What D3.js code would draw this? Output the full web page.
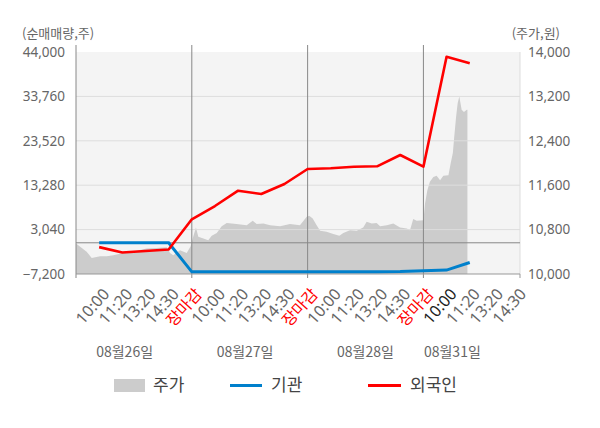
<!DOCTYPE html>
<html>
<head>
<meta charset="utf-8">
<script src="https://cdn.jsdelivr.net/npm/d3@7"></script>
<style>
  body { margin: 0; background: #fff; }
  svg { display: block; font-family: "Noto Sans CJK KR", "Noto Sans", sans-serif; }
</style>
</head>
<body>
<svg id="chart" width="600" height="428"></svg>
<script>
// x positions are in "slots": each day has 5 label slots
const tickLabels = ["10:00", "11:20", "13:20", "14:30", "장마감",
  "10:00", "11:20", "13:20", "14:30", "장마감",
  "10:00", "11:20", "13:20", "14:30", "장마감",
  "10:00", "11:20", "13:20", "14:30"];
const dayLabels = ["08월26일", "08월27일", "08월28일", "08월31일"];
const dayLabelPos = [2.1, 7.3, 12.5, 16.25];
const dayBreaks = [5, 10, 15];

const leftTicks = [-7200, 3040, 13280, 23520, 33760, 44000];
const rightTicks = [10000, 10800, 11600, 12400, 13200, 14000];

// net buying by slot (slot 1..17)
const flowSlots = [1, 2, 3, 4, 5, 6, 7, 8, 9, 10, 11, 12, 13, 14, 15, 16, 17];
const foreign = [-1000, -2240, -1900, -1550, 5420, 8480, 12010, 11250, 13560,
  17020, 17180, 17550, 17640, 20250, 17550, 42900, 41390];
const institution = [0, 0, 0, 0, -6700, -6700, -6700, -6700, -6700,
  -6700, -6700, -6700, -6700, -6650, -6450, -6300, -4550];

// stock price (area)
const priceSlots = [0, 0.03, 0.32, 0.46, 0.68, 1.04, 1.33, 1.61, 2.04, 2.62, 3.05, 3.48,
  3.92, 4.06, 4.2, 4.49, 4.78, 4.95, 5.06, 5.18, 5.28, 5.5, 5.71, 5.86, 6.08, 6.29,
  6.51, 6.93, 7.37, 7.63, 7.8, 8.09, 8.38, 8.81, 9.24, 9.67, 9.96, 10.07, 10.22,
  10.39, 10.54, 10.82, 11.11, 11.37, 11.54, 11.83, 12.12, 12.4, 12.55, 12.77, 12.98,
  13.13, 13.42, 13.7, 13.99, 14.28, 14.42, 14.56, 14.71, 15.0, 15.07, 15.17, 15.28,
  15.43, 15.57, 15.72, 15.86, 16.08, 16.18, 16.27, 16.33, 16.41, 16.48, 16.55, 16.65,
  16.75, 16.87, 16.9];
const price = [10540, 10540, 10445, 10400, 10290, 10320, 10320, 10340, 10380, 10420,
  10460, 10470, 10480, 10380, 10340, 10430, 10380, 10500, 10670, 10840, 10670, 10640,
  10610, 10690, 10740, 10860, 10920, 10900, 10880, 10960, 10900, 10910, 10880, 10860,
  10900, 10880, 11030, 11050, 11000, 10880, 10780, 10760, 10720, 10690, 10740, 10790,
  10780, 10840, 10940, 10910, 10920, 10860, 10880, 10910, 10840, 10820, 10790, 10990,
  10960, 10970, 11270, 11510, 11660, 11750, 11770, 11690, 11770, 11780, 12000, 12180,
  12470, 12830, 13080, 13200, 12960, 12920, 12960, 12960];

const svg = d3.select("#chart");
const plotL = 76, plotR = 520, plotT = 52, plotB = 274;
const axisColor = "#666666";

const x = d3.scaleLinear().domain([0, 19.17]).range([plotL, plotR]);
const yL = d3.scaleLinear().domain([-7200, 44000]).range([plotB, plotT]);
const yR = d3.scaleLinear().domain([10000, 14000]).range([plotB, plotT]);

// plot background
svg.append("rect")
  .attr("x", plotL).attr("y", plotT)
  .attr("width", plotR - plotL).attr("height", plotB - plotT)
  .attr("fill", "#f4f4f4");

// price area
const priceData = priceSlots.map((s, i) => [s, price[i]]);
svg.append("path")
  .datum(priceData)
  .attr("fill", "#cccccc")
  .attr("d", d3.area()
    .x(d => x(d[0]))
    .y0(plotB)
    .y1(d => yR(d[1])));

// grid
svg.append("g").selectAll("line")
  .data(leftTicks.slice(1, -1))
  .join("line")
  .attr("x1", plotL).attr("x2", plotR)
  .attr("y1", d => yL(d)).attr("y2", d => yL(d))
  .attr("stroke", "#dddddd").attr("stroke-width", 1);

svg.append("line")
  .attr("x1", plotR).attr("x2", plotR)
  .attr("y1", plotT).attr("y2", plotB)
  .attr("stroke", "#dddddd");

// zero line
svg.append("line")
  .attr("x1", plotL).attr("x2", plotR)
  .attr("y1", yL(0)).attr("y2", yL(0))
  .attr("stroke", "#888888").attr("stroke-width", 1);

// day separators + left edge
svg.append("g").selectAll("line")
  .data([0].concat(dayBreaks))
  .join("line")
  .attr("x1", d => x(d)).attr("x2", d => x(d))
  .attr("y1", plotT - 7).attr("y2", plotB + 4)
  .attr("stroke", "#888888").attr("stroke-width", 1);

// bottom axis line
svg.append("line")
  .attr("x1", plotL).attr("x2", plotR)
  .attr("y1", plotB).attr("y2", plotB)
  .attr("stroke", "#999999");
svg.append("line")
  .attr("x1", plotR).attr("x2", plotR)
  .attr("y1", plotB).attr("y2", plotB + 4)
  .attr("stroke", "#999999");

// lines
const line = d3.line().x(d => x(d[0])).y(d => yL(d[1]));
svg.append("path")
  .datum(flowSlots.map((s, i) => [s, institution[i]]))
  .attr("fill", "none").attr("stroke", "#0080cc").attr("stroke-width", 3)
  .attr("d", line);
svg.append("path")
  .datum(flowSlots.map((s, i) => [s, foreign[i]]))
  .attr("fill", "none").attr("stroke", "#ff0000").attr("stroke-width", 2.6)
  .attr("stroke-linejoin", "round")
  .attr("d", line);

// y axes
const styleAxis = g => {
  g.select(".domain").remove();
  g.selectAll("text")
    .attr("fill", axisColor)
    .style("font-size", "13.5px")
    .style("font-family", "'Noto Sans', sans-serif");
};
svg.append("g")
  .attr("transform", `translate(${plotL},0)`)
  .call(d3.axisLeft(yL).tickValues(leftTicks).tickSize(0).tickPadding(11)
    .tickFormat(d3.format(",")))
  .call(styleAxis);
svg.append("g")
  .attr("transform", `translate(${plotR},0)`)
  .call(d3.axisRight(yR).tickValues(rightTicks).tickSize(0).tickPadding(8)
    .tickFormat(d3.format(",")))
  .call(styleAxis);

// axis titles
svg.append("text")
  .attr("x", 22).attr("y", 38)
  .attr("fill", axisColor).style("font-size", "13px")
  .text("(순매매량,주)");
svg.append("text")
  .attr("x", 560).attr("y", 38).attr("text-anchor", "end")
  .attr("fill", axisColor).style("font-size", "13px")
  .text("(주가,원)");

// x tick labels (rotated)
svg.append("g").selectAll("text")
  .data(tickLabels)
  .join("text")
  .attr("transform", (d, i) => `translate(${x(i + 1) + 7},${plotB + 17}) rotate(-48)`)
  .attr("text-anchor", "end")
  .attr("dy", "0.35em")
  .attr("fill", (d, i) => d === "장마감" ? "#ff0000" : (i === 15 ? "#222222" : axisColor))
  .style("font-size", "16px")
  .style("font-family", d => d === "장마감" ? "'Noto Sans CJK KR'" : "'Noto Sans', sans-serif")
  .text(d => d);

// date labels
svg.append("g").selectAll("text")
  .data(dayLabels)
  .join("text")
  .attr("x", (d, i) => x(dayLabelPos[i]))
  .attr("y", 357)
  .attr("text-anchor", "middle")
  .attr("fill", axisColor)
  .style("font-size", "14px")
  .text(d => d);

// legend
const legend = svg.append("g");
legend.append("rect")
  .attr("x", 114).attr("y", 379).attr("width", 31).attr("height", 13)
  .attr("fill", "#cccccc");
legend.append("text").attr("x", 153).attr("y", 391)
  .attr("fill", "#444444").style("font-size", "17px").text("주가");
legend.append("line")
  .attr("x1", 230).attr("x2", 262).attr("y1", 385.5).attr("y2", 385.5)
  .attr("stroke", "#0080cc").attr("stroke-width", 3);
legend.append("text").attr("x", 271).attr("y", 391)
  .attr("fill", "#444444").style("font-size", "17px").text("기관");
legend.append("line")
  .attr("x1", 368).attr("x2", 401).attr("y1", 385.5).attr("y2", 385.5)
  .attr("stroke", "#ff0000").attr("stroke-width", 3);
legend.append("text").attr("x", 410).attr("y", 391)
  .attr("fill", "#444444").style("font-size", "17px").text("외국인");
</script>
</body>
</html>
